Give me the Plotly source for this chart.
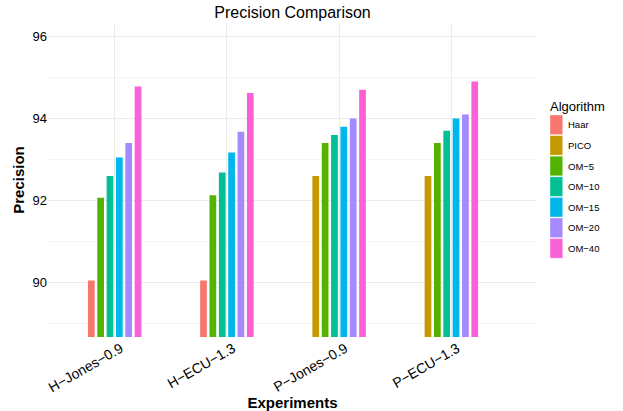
import plotly.graph_objects as go

M = "\u2212"
experiments = [f"H{M}Jones{M}0.9", f"H{M}ECU{M}1.3", f"P{M}Jones{M}0.9", f"P{M}ECU{M}1.3"]
algorithms = ["Haar", "PICO", f"OM{M}5", f"OM{M}10", f"OM{M}15", f"OM{M}20", f"OM{M}40"]
colors = ["#F8766D", "#C49A00", "#53B400", "#00C094", "#00B6EB", "#A58AFF", "#FB61D7"]

# precision per algorithm, per experiment (None = not measured)
haar  = [90.05, 90.05, None, None]
pico  = [None, None, 92.6, 92.6]
om5   = [92.07, 92.13, 93.4, 93.4]
om10  = [92.6, 92.68, 93.6, 93.7]
om15  = [93.05, 93.17, 93.8, 94.0]
om20  = [93.4, 93.68, 94.0, 94.1]
om40  = [94.78, 94.62, 94.7, 94.9]
series = [haar, pico, om5, om10, om15, om20, om40]

W, H = 623, 411
ML, MR, MT, MB = 48, 86, 23, 74
PW, PH = W - ML - MR, H - MT - MB

def px_x(px):
    return (px - ML) / PW

def px_y(py):
    return (H - MB - py) / PH

group_w = 0.5
fig = go.Figure()
for ai, (name, vals, col) in enumerate(zip(algorithms, series, colors)):
    xs, ys, offs = [], [], []
    for ei, v in enumerate(vals):
        if v is None:
            continue
        present = [k for k in range(len(series)) if series[k][ei] is not None]
        n = len(present)
        slot = present.index(ai)
        sw = group_w / n
        bw = sw * 0.72
        xs.append(experiments[ei])
        ys.append(v)
        offs.append(-group_w / 2 + slot * sw + (sw - bw) / 2)
    fig.add_trace(go.Bar(
        x=xs, y=ys, name=name, offset=offs, width=(group_w / 6) * 0.72,
        marker=dict(color=col, line=dict(width=0)),
        showlegend=False,
    ))

# legend drawn as keys + labels (ggplot style tall keys)
shapes, annots = [], []
key_x0, key_x1 = 550, 562.7
key_top, key_pitch, key_h = 115, 20.6, 19.6
for i, (name, col) in enumerate(zip(algorithms, colors)):
    y0 = key_top + i * key_pitch
    shapes.append(dict(type="rect", xref="paper", yref="paper",
                       x0=px_x(key_x0), x1=px_x(key_x1),
                       y0=px_y(y0 + key_h), y1=px_y(y0),
                       fillcolor=col, line=dict(color="rgba(255,255,255,0.6)", width=0.6)))
    annots.append(dict(text=name, xref="paper", yref="paper",
                       x=px_x(566), y=px_y(y0 + key_h / 2), xanchor="left", yanchor="middle",
                       showarrow=False, font=dict(size=9.5, color="black")))
annots.append(dict(text="Algorithm", xref="paper", yref="paper",
                   x=px_x(548), y=px_y(106), xanchor="left", yanchor="middle",
                   showarrow=False, font=dict(size=13, color="black")))

fig.update_layout(
    width=W, height=H,
    barmode="overlay",
    plot_bgcolor="white", paper_bgcolor="white",
    font=dict(family="Liberation Sans, Arial, sans-serif", color="black"),
    margin=dict(l=ML, r=MR, t=MT, b=MB, autoexpand=False),
    title=dict(text="Precision Comparison", x=(ML + W - MR) / 2 / W, xanchor="center",
               xref="container", yref="container",
               y=1 - 12 / H, yanchor="middle", font=dict(size=16)),
    showlegend=False,
    shapes=shapes,
    annotations=annots,
    xaxis=dict(
        type="category", categoryorder="array", categoryarray=experiments,
        range=[-0.594, 3.763], automargin=False,
        showgrid=True, gridcolor="#EBEBEB", gridwidth=1,
        tickangle=-30, tickfont=dict(size=14), ticks="", zeroline=False,
        ticklabelshift=6,
        title=dict(text="<b>Experiments</b>", font=dict(size=15), standoff=2),
        showline=False,
    ),
    yaxis=dict(
        range=[88.67, 96.33], tickvals=[90, 92, 94, 96], automargin=False,
        showgrid=True, gridcolor="#EBEBEB", gridwidth=1,
        minor=dict(tickvals=[89, 91, 93, 95], showgrid=True, gridcolor="#F4F4F4", gridwidth=1),
        tickfont=dict(size=13), ticks="", zeroline=False,
        title=dict(text="<b>Precision</b>", font=dict(size=15), standoff=4),
        showline=False,
    ),
)

fig.write_html("out.html", config={"displayModeBar": False},
               post_script="document.body.style.margin='0px';")
